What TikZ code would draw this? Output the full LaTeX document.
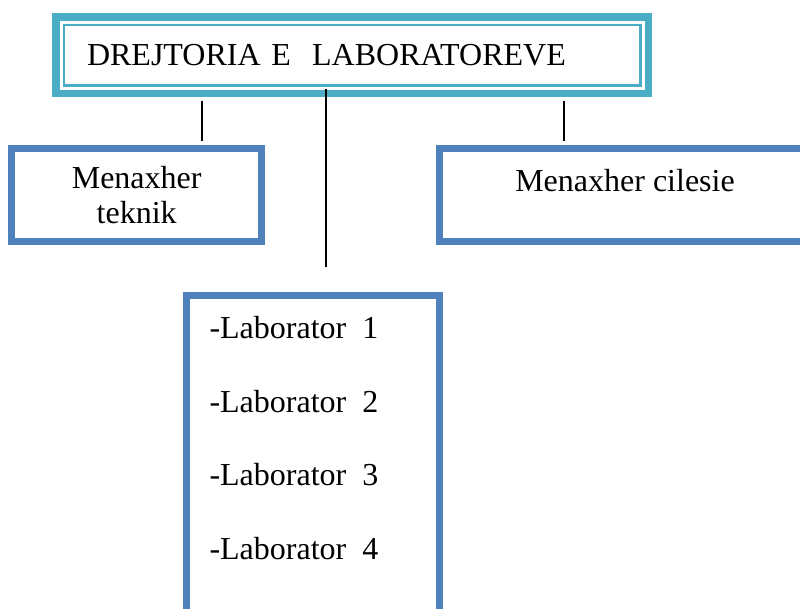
\documentclass[tikz,border=0pt]{standalone}
\usepackage{fontspec}
\setmainfont{Liberation Serif}
\usetikzlibrary{positioning}
\definecolor{aqua}{HTML}{4BACC6}
\definecolor{blueframe}{HTML}{4F81BD}

\begin{document}
\begin{tikzpicture}[x=1pt,y=-1pt,node distance=73.7pt,on grid,
        every node/.style={font=\fontsize{32}{35}\selectfont},
        box/.style={draw=blueframe,line width=6.5pt,inner sep=0pt,outer sep=0pt},
        item/.style={anchor=west,text height=22pt,text depth=0pt,inner sep=0pt},
        link/.style={line width=1.6pt}]
    \useasboundingbox (0,0) rectangle (800,608);
    % head of the chart, thick and thin frame
    \node[draw=aqua,line width=7.5pt,outer sep=0pt,minimum width=592.5pt,minimum height=76.5pt,
          text width=530.5pt,inner xsep=31pt,align=left,text height=21pt,text depth=0pt]
          (dir) at (352.25,55.25) {DREJTORIA E~~LABORATOREVE};
    \draw[aqua,line width=2.3pt] ([shift={(8,8)}]dir.north west) rectangle ([shift={(-8,-8)}]dir.south east);
    \node[box,minimum width=250pt,minimum height=93.4pt,align=center] (tek) at (136.7,195) {Menaxher\\teknik};
    \node[box,minimum width=371.4pt,minimum height=93.4pt,text height=22pt,text depth=30pt] (cil) at (625,195) {Menaxher cilesie};
    \node[box,minimum width=253pt,minimum height=345pt] (lab) at (313,468) {};
    \node[item] (lab1) at (209.3,327.3) {-Laborator~~1};
    \node[item,below=of lab1] (lab2) {-Laborator~~2};
    \node[item,below=of lab2] (lab3) {-Laborator~~3};
    \node[item,below=of lab3] (lab4) {-Laborator~~4};
    % connectors
    \coordinate (xa) at (202,0);
    \coordinate (xb) at (564,0);
    \coordinate (xc) at (326,0);
    \draw[link,shorten <=7.5pt,shorten >=7.6pt] (dir.south -| xa) -- (tek.north -| xa);
    \draw[link,shorten <=7.5pt,shorten >=7.6pt] (dir.south -| xb) -- (cil.north -| xb);
    \draw[link,shorten <=-4.5pt,shorten >=28.2pt] (dir.south -| xc) -- (lab.north -| xc);
\end{tikzpicture}
\end{document}
